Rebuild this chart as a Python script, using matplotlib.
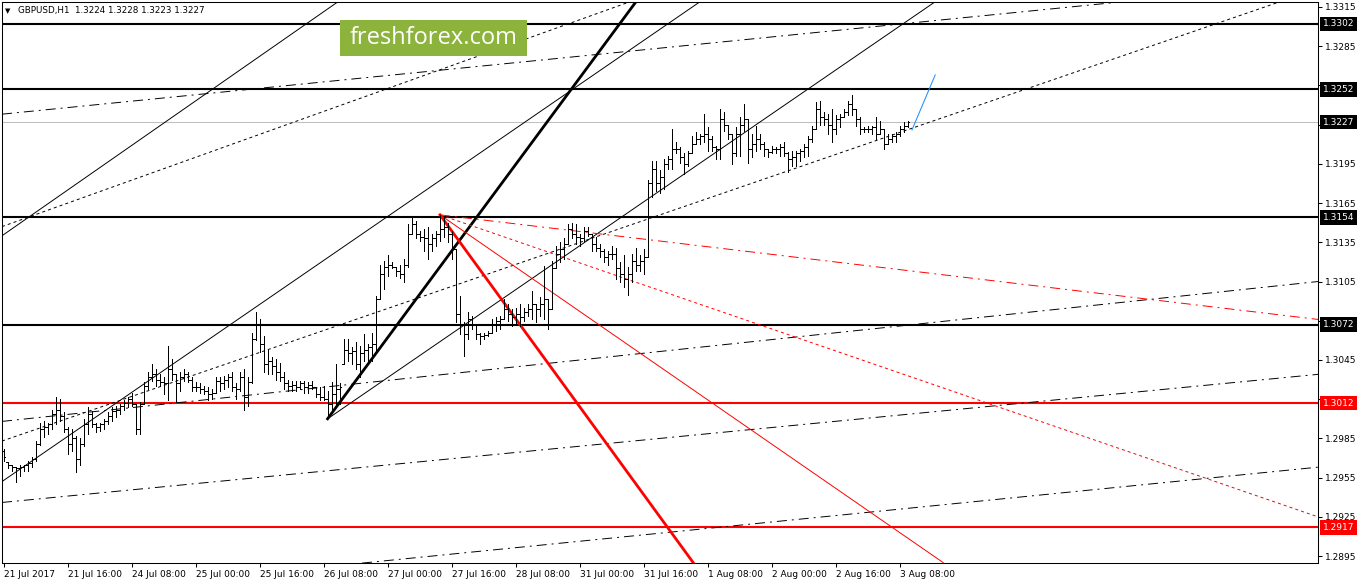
import numpy as np
import matplotlib.pyplot as plt
import matplotlib.transforms as mtransforms
from matplotlib.patches import Rectangle

plt.rcParams['lines.scale_dashes'] = False
plt.rcParams['font.family'] = ['DejaVu Sans']

# GBPUSD H1 bars, 21 Jul 2017 00:00 .. 3 Aug 2017 10:00 (bar index = hour count, weekends skipped)
opens = [
    1.2975, 1.2967, 1.2965, 1.2963, 1.2962, 1.2963, 1.2965, 1.2966, 1.2969, 1.2981,
    1.2992, 1.2994, 1.2996, 1.3004, 1.3007, 1.3002, 1.2992, 1.2981, 1.2985, 1.2969,
    1.2981, 1.2996, 1.3004, 1.2996, 1.2994, 1.2996, 1.2998, 1.3002, 1.3006, 1.3007,
    1.3010, 1.3012, 1.3015, 1.3011, 1.2992, 1.3011, 1.3025, 1.3032, 1.3034, 1.3030,
    1.3028, 1.3027, 1.3038, 1.3034, 1.3027, 1.3032, 1.3034, 1.3030, 1.3024, 1.3024,
    1.3023, 1.3021, 1.3019, 1.3020, 1.3029, 1.3027, 1.3030, 1.3032, 1.3024, 1.3023,
    1.3032, 1.3017, 1.3028, 1.3061, 1.3072, 1.3057, 1.3042, 1.3044, 1.3040, 1.3036,
    1.3032, 1.3027, 1.3025, 1.3026, 1.3024, 1.3027, 1.3024, 1.3026, 1.3024, 1.3019,
    1.3017, 1.3015, 1.3011, 1.3019, 1.3023, 1.3042, 1.3053, 1.3050, 1.3052, 1.3042,
    1.3050, 1.3053, 1.3055, 1.3057, 1.3092, 1.3111, 1.3116, 1.3118, 1.3116, 1.3113,
    1.3111, 1.3118, 1.3141, 1.3149, 1.3141, 1.3139, 1.3138, 1.3134, 1.3138, 1.3141,
    1.3145, 1.3147, 1.3141, 1.3130, 1.3080, 1.3072, 1.3065, 1.3076, 1.3072, 1.3065,
    1.3063, 1.3064, 1.3066, 1.3072, 1.3075, 1.3076, 1.3084, 1.3080, 1.3078, 1.3080,
    1.3078, 1.3082, 1.3084, 1.3088, 1.3084, 1.3088, 1.3092, 1.3084, 1.3115, 1.3126,
    1.3130, 1.3134, 1.3145, 1.3141, 1.3139, 1.3138, 1.3144, 1.3141, 1.3134, 1.3131,
    1.3128, 1.3124, 1.3126, 1.3126, 1.3115, 1.3111, 1.3107, 1.3111, 1.3121, 1.3118,
    1.3121, 1.3124, 1.3180, 1.3191, 1.3180, 1.3185, 1.3195, 1.3199, 1.3206, 1.3206,
    1.3200, 1.3195, 1.3203, 1.3210, 1.3214, 1.3216, 1.3218, 1.3214, 1.3208, 1.3206,
    1.3229, 1.3225, 1.3218, 1.3203, 1.3218, 1.3225, 1.3229, 1.3206, 1.3210, 1.3214,
    1.3210, 1.3206, 1.3204, 1.3206, 1.3206, 1.3208, 1.3203, 1.3199, 1.3200, 1.3203,
    1.3205, 1.3208, 1.3214, 1.3222, 1.3237, 1.3231, 1.3229, 1.3225, 1.3222, 1.3229,
    1.3231, 1.3235, 1.3241, 1.3237, 1.3229, 1.3222, 1.3222, 1.3222, 1.3223, 1.3218,
    1.3222, 1.3210, 1.3214, 1.3216, 1.3218, 1.3222, 1.3224]
highs = [
    1.2977, 1.2967, 1.2965, 1.2963, 1.2965, 1.2965, 1.2968, 1.2971, 1.2983, 1.2997,
    1.2998, 1.2997, 1.3007, 1.3017, 1.3015, 1.3005, 1.2994, 1.2992, 1.2987, 1.2985,
    1.3000, 1.3009, 1.3006, 1.2997, 1.2997, 1.3000, 1.3005, 1.3009, 1.3010, 1.3011,
    1.3014, 1.3017, 1.3020, 1.3011, 1.3013, 1.3028, 1.3036, 1.3042, 1.3038, 1.3034,
    1.3032, 1.3056, 1.3046, 1.3034, 1.3036, 1.3038, 1.3036, 1.3032, 1.3028, 1.3027,
    1.3025, 1.3024, 1.3023, 1.3032, 1.3032, 1.3033, 1.3034, 1.3036, 1.3027, 1.3036,
    1.3038, 1.3032, 1.3066, 1.3082, 1.3076, 1.3063, 1.3053, 1.3047, 1.3046, 1.3043,
    1.3036, 1.3030, 1.3029, 1.3029, 1.3029, 1.3029, 1.3028, 1.3029, 1.3024, 1.3024,
    1.3025, 1.3021, 1.3028, 1.3042, 1.3027, 1.3061, 1.3061, 1.3055, 1.3059, 1.3056,
    1.3065, 1.3057, 1.3066, 1.3094, 1.3118, 1.3121, 1.3125, 1.3120, 1.3116, 1.3118,
    1.3122, 1.3149, 1.3155, 1.3151, 1.3144, 1.3145, 1.3147, 1.3141, 1.3144, 1.3156,
    1.3154, 1.3150, 1.3144, 1.3130, 1.3094, 1.3074, 1.3082, 1.3079, 1.3072, 1.3066,
    1.3066, 1.3067, 1.3076, 1.3078, 1.3079, 1.3092, 1.3088, 1.3084, 1.3085, 1.3088,
    1.3085, 1.3088, 1.3098, 1.3088, 1.3093, 1.3117, 1.3092, 1.3121, 1.3132, 1.3135,
    1.3138, 1.3149, 1.3150, 1.3149, 1.3141, 1.3147, 1.3147, 1.3141, 1.3139, 1.3134,
    1.3130, 1.3128, 1.3132, 1.3131, 1.3120, 1.3125, 1.3116, 1.3126, 1.3131, 1.3125,
    1.3130, 1.3183, 1.3197, 1.3197, 1.3190, 1.3199, 1.3201, 1.3222, 1.3212, 1.3208,
    1.3203, 1.3205, 1.3216, 1.3219, 1.3218, 1.3233, 1.3223, 1.3216, 1.3209, 1.3237,
    1.3235, 1.3225, 1.3218, 1.3223, 1.3231, 1.3241, 1.3229, 1.3218, 1.3224, 1.3218,
    1.3212, 1.3206, 1.3209, 1.3208, 1.3210, 1.3212, 1.3204, 1.3205, 1.3205, 1.3206,
    1.3210, 1.3216, 1.3224, 1.3242, 1.3243, 1.3235, 1.3233, 1.3237, 1.3232, 1.3233,
    1.3237, 1.3243, 1.3248, 1.3237, 1.3231, 1.3223, 1.3224, 1.3224, 1.3231, 1.3228,
    1.3222, 1.3218, 1.3218, 1.3219, 1.3224, 1.3227, 1.3228]
lows = [
    1.2968, 1.2962, 1.2960, 1.2952, 1.2956, 1.2960, 1.2960, 1.2963, 1.2968, 1.2980,
    1.2986, 1.2988, 1.2992, 1.2996, 1.2998, 1.2990, 1.2973, 1.2975, 1.2959, 1.2965,
    1.2979, 1.2988, 1.2994, 1.2990, 1.2991, 1.2992, 1.2996, 1.2998, 1.3001, 1.3004,
    1.3007, 1.3009, 1.3010, 1.2988, 1.2988, 1.3011, 1.3023, 1.3029, 1.3025, 1.3025,
    1.3019, 1.3014, 1.3030, 1.3013, 1.3021, 1.3029, 1.3028, 1.3021, 1.3021, 1.3020,
    1.3019, 1.3014, 1.3015, 1.3020, 1.3021, 1.3023, 1.3024, 1.3021, 1.3015, 1.3021,
    1.3007, 1.3010, 1.3027, 1.3060, 1.3051, 1.3036, 1.3034, 1.3034, 1.3030, 1.3029,
    1.3023, 1.3021, 1.3021, 1.3021, 1.3023, 1.3020, 1.3020, 1.3023, 1.3017, 1.3014,
    1.3014, 1.3001, 1.3007, 1.3010, 1.3011, 1.3042, 1.3044, 1.3042, 1.3038, 1.3032,
    1.3044, 1.3043, 1.3044, 1.3051, 1.3092, 1.3099, 1.3109, 1.3115, 1.3109, 1.3108,
    1.3105, 1.3116, 1.3141, 1.3138, 1.3136, 1.3128, 1.3122, 1.3128, 1.3132, 1.3136,
    1.3139, 1.3135, 1.3122, 1.3074, 1.3065, 1.3048, 1.3061, 1.3069, 1.3061, 1.3057,
    1.3061, 1.3063, 1.3066, 1.3067, 1.3069, 1.3076, 1.3075, 1.3071, 1.3072, 1.3071,
    1.3075, 1.3079, 1.3076, 1.3074, 1.3079, 1.3076, 1.3069, 1.3084, 1.3115, 1.3120,
    1.3122, 1.3134, 1.3138, 1.3134, 1.3132, 1.3136, 1.3140, 1.3128, 1.3128, 1.3124,
    1.3120, 1.3118, 1.3122, 1.3107, 1.3105, 1.3101, 1.3095, 1.3105, 1.3113, 1.3113,
    1.3111, 1.3124, 1.3170, 1.3174, 1.3173, 1.3176, 1.3191, 1.3191, 1.3203, 1.3196,
    1.3187, 1.3193, 1.3203, 1.3210, 1.3210, 1.3212, 1.3205, 1.3205, 1.3199, 1.3199,
    1.3220, 1.3214, 1.3195, 1.3201, 1.3201, 1.3220, 1.3196, 1.3200, 1.3205, 1.3206,
    1.3201, 1.3200, 1.3203, 1.3203, 1.3201, 1.3201, 1.3189, 1.3193, 1.3193, 1.3197,
    1.3200, 1.3201, 1.3212, 1.3222, 1.3225, 1.3225, 1.3218, 1.3212, 1.3218, 1.3223,
    1.3231, 1.3232, 1.3232, 1.3224, 1.3218, 1.3219, 1.3219, 1.3218, 1.3214, 1.3218,
    1.3206, 1.3210, 1.3212, 1.3212, 1.3216, 1.3219, 1.3223]
closes = [
    1.2971, 1.2965, 1.2963, 1.2962, 1.2963, 1.2965, 1.2966, 1.2969, 1.2981, 1.2992,
    1.2994, 1.2996, 1.3004, 1.3007, 1.3002, 1.2992, 1.2981, 1.2985, 1.2969, 1.2981,
    1.2996, 1.3004, 1.2996, 1.2994, 1.2996, 1.2998, 1.3002, 1.3006, 1.3007, 1.3010,
    1.3012, 1.3015, 1.3011, 1.2992, 1.3011, 1.3025, 1.3032, 1.3034, 1.3030, 1.3028,
    1.3027, 1.3038, 1.3034, 1.3027, 1.3032, 1.3034, 1.3030, 1.3024, 1.3024, 1.3023,
    1.3021, 1.3019, 1.3020, 1.3029, 1.3027, 1.3030, 1.3032, 1.3024, 1.3023, 1.3032,
    1.3017, 1.3028, 1.3061, 1.3072, 1.3057, 1.3042, 1.3044, 1.3040, 1.3036, 1.3032,
    1.3027, 1.3025, 1.3026, 1.3024, 1.3027, 1.3024, 1.3026, 1.3024, 1.3019, 1.3017,
    1.3015, 1.3011, 1.3019, 1.3023, 1.3024, 1.3053, 1.3050, 1.3052, 1.3042, 1.3050,
    1.3053, 1.3055, 1.3057, 1.3092, 1.3111, 1.3116, 1.3118, 1.3116, 1.3113, 1.3111,
    1.3118, 1.3141, 1.3149, 1.3141, 1.3139, 1.3138, 1.3134, 1.3138, 1.3141, 1.3145,
    1.3147, 1.3141, 1.3130, 1.3080, 1.3072, 1.3065, 1.3076, 1.3072, 1.3065, 1.3063,
    1.3064, 1.3066, 1.3072, 1.3075, 1.3076, 1.3084, 1.3080, 1.3078, 1.3080, 1.3078,
    1.3082, 1.3084, 1.3088, 1.3084, 1.3088, 1.3092, 1.3084, 1.3115, 1.3126, 1.3130,
    1.3134, 1.3145, 1.3141, 1.3139, 1.3138, 1.3144, 1.3141, 1.3134, 1.3131, 1.3128,
    1.3124, 1.3126, 1.3126, 1.3115, 1.3111, 1.3107, 1.3111, 1.3121, 1.3118, 1.3121,
    1.3124, 1.3180, 1.3191, 1.3180, 1.3185, 1.3195, 1.3199, 1.3206, 1.3206, 1.3200,
    1.3195, 1.3203, 1.3210, 1.3214, 1.3216, 1.3218, 1.3214, 1.3208, 1.3206, 1.3229,
    1.3225, 1.3218, 1.3203, 1.3218, 1.3225, 1.3229, 1.3206, 1.3210, 1.3214, 1.3210,
    1.3206, 1.3204, 1.3206, 1.3206, 1.3208, 1.3203, 1.3199, 1.3200, 1.3203, 1.3205,
    1.3208, 1.3214, 1.3222, 1.3237, 1.3231, 1.3229, 1.3225, 1.3222, 1.3229, 1.3231,
    1.3235, 1.3241, 1.3237, 1.3229, 1.3222, 1.3222, 1.3222, 1.3223, 1.3218, 1.3222,
    1.3210, 1.3214, 1.3216, 1.3218, 1.3222, 1.3224, 1.3227]

# time axis
tick_bars = [0, 16, 32, 48, 64, 80, 96, 112, 128, 144, 160, 176, 192, 208, 224]
tick_labels = ['21 Jul 2017', '21 Jul 16:00', '24 Jul 08:00', '25 Jul 00:00', '25 Jul 16:00',
               '26 Jul 08:00', '27 Jul 00:00', '27 Jul 16:00', '28 Jul 08:00', '31 Jul 00:00',
               '31 Jul 16:00', '1 Aug 08:00', '2 Aug 00:00', '2 Aug 16:00', '3 Aug 08:00']
# price scale; labels hidden under the level boxes are left blank
price_ticks = [1.2895, 1.2925, 1.2955, 1.2985, 1.3015, 1.3045, 1.3075, 1.3105,
               1.3135, 1.3165, 1.3195, 1.3225, 1.3255, 1.3285, 1.3315]
price_labels = ['1.2895', '1.2925', '1.2955', '1.2985', '1.3015', '1.3045', '', '1.3105',
                '1.3135', '1.3165', '1.3195', '', '', '1.3285', '1.3315']

# horizontal levels
black_levels = [1.3302, 1.3252, 1.3154, 1.3072]
red_levels = [1.3012, 1.2917]
last_price = 1.3227

# drawn objects as (bar0, price0, bar1, price1)
channel_lines = [(-0.4, 1.2952, 174.1, 1.3319),
                 (-0.4, 1.3140, 83.6, 1.3319),
                 (81.0, 1.3000, 232.9, 1.3319)]
bold_line = (81.0, 1.3000, 158.1, 1.3319)
dotted_lines = [(-0.4, 1.3147, 156.6, 1.3319),
                (-0.4, 1.2983, 319.1, 1.3319)]
dashdot_lines = [(-0.4, 1.3233, 328.6, 1.3334),
                 (-0.4, 1.2998, 328.6, 1.3105),
                 (-0.4, 1.2936, 328.6, 1.3034),
                 (-0.4, 1.2862, 328.6, 1.2963)]
fan_thick = (109.1, 1.3156, 172.4, 1.2890)
fan_thin = (109.1, 1.3156, 234.9, 1.2890)
fan_dotted = (109.1, 1.3156, 328.6, 1.2925)
fan_dashdot = (109.1, 1.3156, 328.6, 1.3076)
blue_line = (227.1, 1.3221, 232.9, 1.3263)

W, H = 1358, 584
fig = plt.figure(figsize=(W / 100, H / 100), dpi=100)
ax = fig.add_axes([2 / W, 21 / H, 1316 / W, 561 / H])
ax.set_xlim(-0.4, 328.6)
ax.set_ylim(1.28897, 1.33188)

DOT = (0, (2.2, 2.2))
DASHDOT = (0, (7.2, 3.6, 1.4, 3.6))

def seg(l, **kw):
    ax.plot([l[0], l[2]], [l[1], l[3]], **kw)

# levels
for lv in black_levels:
    ax.axhline(lv, color='black', lw=1.5, zorder=2)
for lv in red_levels:
    ax.axhline(lv, color='red', lw=1.5, zorder=2)
ax.axhline(last_price, color='#c0c0c0', lw=0.75, zorder=1)

# trend lines
for l in channel_lines:
    seg(l, color='black', lw=0.7)
seg(bold_line, color='black', lw=2.0)
for l in dotted_lines:
    seg(l, color='black', lw=0.7, ls=DOT)
for l in dashdot_lines:
    seg(l, color='black', lw=0.7, ls=DASHDOT)
seg(fan_thick, color='red', lw=2.0)
seg(fan_thin, color='red', lw=0.7)
seg(fan_dotted, color='red', lw=0.7, ls=DOT)
seg(fan_dashdot, color='red', lw=0.7, ls=DASHDOT)
seg(blue_line, color='#1e90ff', lw=0.75)

# OHLC bars
x = np.arange(len(closes))
ax.vlines(x, lows, highs, color='black', lw=0.5, antialiased=False, zorder=3)
ax.hlines(opens, x - 0.3, x, color='black', lw=0.5, antialiased=False, zorder=3)
ax.hlines(closes, x, x + 0.3, color='black', lw=0.5, antialiased=False, zorder=3)

# axes styling
for s in ax.spines.values():
    s.set_linewidth(0.75)
ax.yaxis.tick_right()
ax.set_yticks(price_ticks)
ax.set_yticklabels(price_labels)
ax.set_xticks(tick_bars)
ax.set_xticklabels(tick_labels)
for t in ax.get_xticklabels():
    t.set_horizontalalignment('left')
ax.tick_params(axis='both', direction='out', length=3, width=0.75, labelsize=6.5, pad=2)

# highlighted price labels
tr = mtransforms.blended_transform_factory(ax.transAxes, ax.transData)
for lv in black_levels + [last_price]:
    ax.text(1.0035, lv, '%.4f' % lv, transform=tr, ha='left', va='center', fontsize=6.5,
            color='white', bbox=dict(boxstyle='square,pad=0.32', fc='black', ec='none'), zorder=5)
for lv in red_levels:
    ax.text(1.0035, lv, '%.4f' % lv, transform=tr, ha='left', va='center', fontsize=6.5,
            color='white', bbox=dict(boxstyle='square,pad=0.32', fc='red', ec='none'), zorder=5)

# header
fig.text(5 / W, 1 - 11 / H, '\u25bc', fontsize=5, va='center', ha='left')
fig.text(18 / W, 1 - 11 / H, 'GBPUSD,H1  1.3224 1.3228 1.3223 1.3227', fontsize=6.3, va='center', ha='left')

# logo
fig.add_artist(Rectangle((340 / W, 1 - 56 / H), 187 / W, 36 / H, transform=fig.transFigure,
                         fc='#8cb43c', ec='none', zorder=10))
fig.text(433.5 / W, 1 - 38 / H, 'freshforex.com', fontsize=17, family='Open Sans', color='white',
         ha='center', va='center', zorder=11)

fig.savefig('out.png', dpi=100)
